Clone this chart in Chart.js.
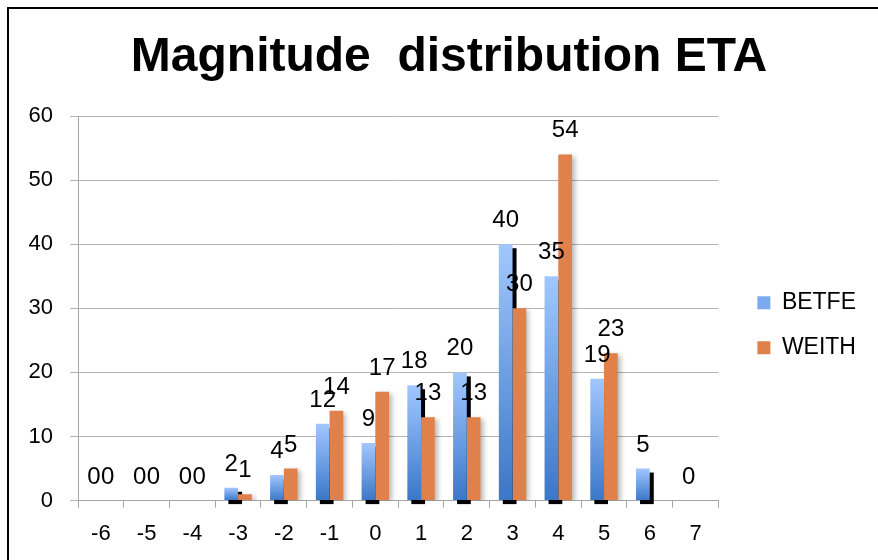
<!DOCTYPE html>
<html>
<head>
<meta charset="utf-8">
<title>Magnitude distribution ETA</title>
<script src="https://cdn.jsdelivr.net/npm/chart.js@4.4.1/dist/chart.umd.min.js"></script>
<style>
  html, body { margin: 0; padding: 0; background: #fff; }
  .wrap { position: relative; width: 878px; height: 560px; overflow: hidden; }
  .frame {
    position: absolute; left: 7px; top: 7px; right: -4px; bottom: -4px;
    border-left: 2px solid #000; border-top: 2px solid #000;
    pointer-events: none;
  }
</style>
</head>
<body>
<div class="wrap">
  <canvas id="chart"></canvas>
  <div class="frame"></div>
</div>
<script>
const categories = ["-6", "-5", "-4", "-3", "-2", "-1", "0", "1", "2", "3", "4", "5", "6", "7"];
const betfe = [0, 0, 0, 2, 4, 12, 9, 18, 20, 40, 35, 19, 5, 0];
const weith = [0, 0, 0, 1, 5, 14, 17, 13, 13, 30, 54, 23, null, null];
const yTicks = [0, 10, 20, 30, 40, 50, 60];

const FONT = "'Liberation Sans', Arial, sans-serif";
const ORANGE = "#E0804A";
const BLUE_SWATCH = "#7CAAF0";

// light-to-dark blue fill, one gradient per bar
function blueFill(context) {
  const chart = context.chart;
  const value = context.parsed ? context.parsed.y : null;
  if (!chart.chartArea || !value) return BLUE_SWATCH;
  const y = chart.scales.y;
  const top = y.getPixelForValue(value);
  const bottom = y.getPixelForValue(0);
  const g = chart.ctx.createLinearGradient(0, top, 0, bottom);
  g.addColorStop(0, "#A2C7FF");
  g.addColorStop(1, "#3A77C8");
  return g;
}

// hard black offset shadow behind the blue bars, soft grey one for the orange bars
const barShadow = {
  id: "barShadow",
  beforeDatasetsDraw(chart) {
    const ctx = chart.ctx;
    const meta = chart.getDatasetMeta(0);
    ctx.save();
    ctx.fillStyle = "#000";
    meta.data.forEach((bar, i) => {
      if (!betfe[i]) return;
      const { x, y, base, width } = bar.getProps(["x", "y", "base", "width"], true);
      ctx.fillRect(x - width / 2 + 4, y + 4, width, base - y);
    });
    ctx.restore();
  },
  beforeDatasetDraw(chart, args) {
    if (args.index !== 1) return;
    const ctx = chart.ctx;
    ctx.save();
    ctx.shadowColor = "rgba(0,0,0,0.28)";
    ctx.shadowBlur = 5;
    ctx.shadowOffsetX = 3;
    ctx.shadowOffsetY = 2;
  },
  afterDatasetDraw(chart, args) {
    if (args.index !== 1) return;
    chart.ctx.restore();
  },
};

const valueLabels = {
  id: "valueLabels",
  afterDatasetsDraw(chart) {
    const ctx = chart.ctx;
    ctx.save();
    ctx.font = `24px ${FONT}`;
    ctx.fillStyle = "#000";
    ctx.textAlign = "center";
    ctx.textBaseline = "alphabetic";
    [betfe, weith].forEach((values, di) => {
      const meta = chart.getDatasetMeta(di);
      meta.data.forEach((bar, i) => {
        if (values[i] == null) return;
        ctx.fillText(String(values[i]), bar.x, bar.y - 17);
      });
    });
    ctx.restore();
  },
};

// empty right-hand axes used only as fixed-width spacers
const spacer = (width, weight) => ({
  type: "linear",
  position: "right",
  weight,
  grid: { display: false },
  border: { display: false },
  ticks: { display: false },
  afterFit: (scale) => { scale.width = width; },
});

new Chart(document.getElementById("chart"), {
  type: "bar",
  data: {
    labels: categories,
    datasets: [
      { label: "BETFE", data: betfe, backgroundColor: blueFill },
      { label: "WEITH", data: weith, backgroundColor: ORANGE },
    ],
  },
  options: {
    responsive: true,
    maintainAspectRatio: false,
    animation: false,
    datasets: { bar: { categoryPercentage: 0.6, barPercentage: 1 } },
    layout: { padding: { left: 20, right: 0, top: 0, bottom: 0 } },
    plugins: {
      title: {
        display: true,
        text: "Magnitude  distribution ETA",
        color: "#000",
        font: { family: FONT, size: 48, weight: "bold" },
        padding: { top: 29, bottom: 29.4 },
      },
      legend: {
        position: "right",
        fullSize: false,
        maxWidth: 200,
        title: { display: true, text: "", font: { size: 10, lineHeight: 1 }, padding: { top: 24, bottom: 0 } },
        labels: {
          color: "#000",
          font: { family: FONT, size: 23 },
          boxWidth: 13,
          boxHeight: 13,
          padding: 22,
        },
      },
      tooltip: { enabled: false },
    },
    scales: {
      x: {
        grid: { drawOnChartArea: false, drawTicks: true, tickLength: 7, color: "#A6A6A6" },
        border: { display: true, color: "#A6A6A6" },
        ticks: { color: "#000", font: { family: FONT, size: 22 }, padding: 13, maxRotation: 0 },
      },
      y: {
        min: 0,
        max: 60,
        afterBuildTicks: (scale) => { scale.ticks = yTicks.map((v) => ({ value: v })); },
        afterFit: (scale) => { scale.width = 58; },
        grid: { color: "#B4B4B4", tickLength: 8 },
        border: { display: true, color: "#A6A6A6" },
        ticks: { color: "#000", font: { family: FONT, size: 22 }, padding: 17 },
      },
      gap: spacer(17, 0),
      edge: spacer(12, 2000),
    },
  },
  plugins: [barShadow, valueLabels],
});
</script>
</body>
</html>
